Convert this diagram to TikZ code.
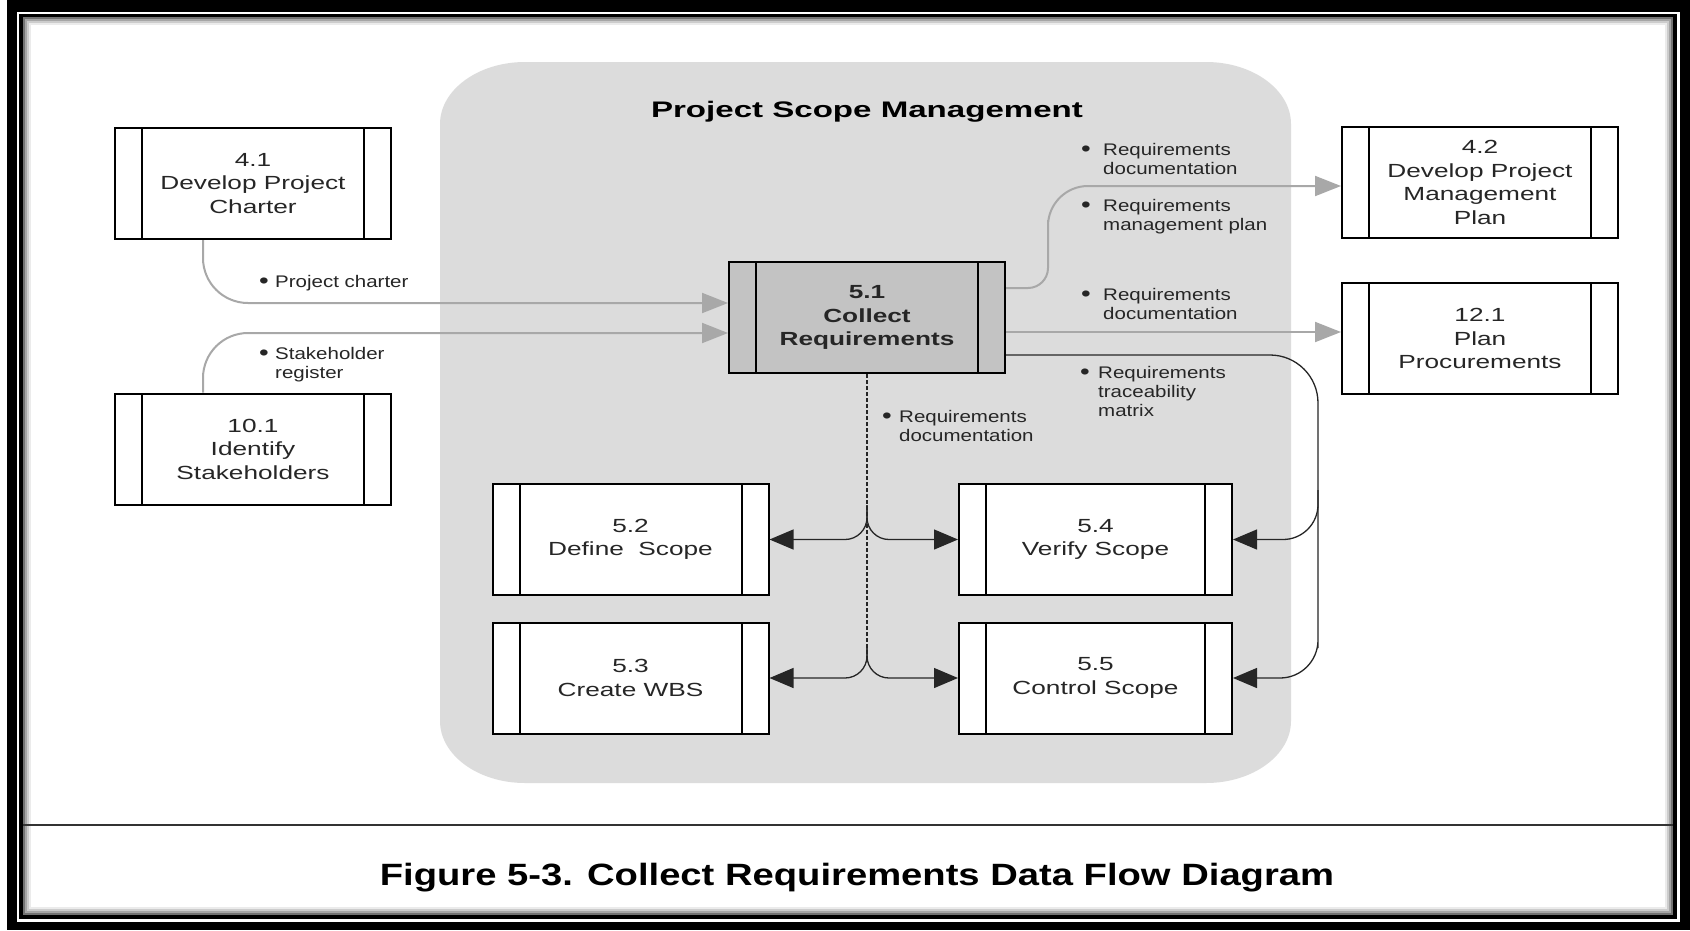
\documentclass[tikz,border=0pt]{standalone}
\usepackage{fontspec}
\setmainfont{Liberation Sans}
\newfontfamily\boxfont{Liberation Sans}[FakeStretch=1.38]
\newfontfamily\lblfont{Liberation Sans}[FakeStretch=1.22]
\newfontfamily\titlefont{Liberation Sans}[FakeStretch=1.47]
\newfontfamily\capfont{Liberation Sans}[FakeStretch=1.24]
\usetikzlibrary{arrows.meta,calc}
\definecolor{regiongray}{HTML}{DCDCDC}
\definecolor{boxgray}{HTML}{C3C3C3}
\definecolor{flowgray}{HTML}{A8A8A8}
\newcommand\bul[2]{\makebox[#1][l]{\raisebox{-0.08em}{\scalebox{1.35}{\textbullet}}}\vtop{\baselineskip=19pt\lineskiplimit=-20pt #2}}
\begin{document}
\begin{tikzpicture}[x=1pt,y=-1pt,
  procbox/.style={draw=black, line width=2pt, minimum width=276pt, minimum height=111pt,
    inner sep=0pt, align=center, font=\boxfont\fontsize{19}{23.5}\selectfont, text=black!85, fill=white,
    path picture={
      \draw[black,line width=2pt] ([xshift=27pt]path picture bounding box.south west) -- ([xshift=27pt]path picture bounding box.north west);
      \draw[black,line width=2pt] ([xshift=-27pt]path picture bounding box.south east) -- ([xshift=-27pt]path picture bounding box.north east);}},
  lbl/.style={anchor=base west, inner sep=0pt, font=\lblfont\fontsize{16.8}{19}\selectfont, text=black!85},
  grayflow/.style={draw=flowgray, line width=2pt, -{Triangle[length=26pt,width=20pt]}},
  blackflow/.style={draw=black!85, line width=1.3pt, -{Triangle[length=24pt,width=20pt]}},
  blackline/.style={draw=black!85, line width=1.3pt}
]
\useasboundingbox (0,0) rectangle (1690,930);
% frame
\fill[white] (0,0) rectangle (1690,930);
\fill[black] (7,0) rectangle (1690,930);
\fill[white] (17,12) rectangle (1680,922);
\fill[black] (19,14) rectangle (1677,919);
\fill[white] (23,17) rectangle (1673,915);
\draw[black!55, line width=2pt] (24,18) rectangle (1672,914);
\draw[black!35, line width=2pt] (26,20) rectangle (1670,912);
\draw[black!20, line width=2pt] (28,22) rectangle (1668,910);
\draw[black!8, line width=2pt] (30,24) rectangle (1666,908);
\draw[black!80, line width=1.5pt] (23,825) -- (1673,825);
% region
\fill[regiongray] (440,124) .. controls (440,90) and (478,62) .. (525,62) -- (1206,62)
  .. controls (1253,62) and (1291,90) .. (1291,124) -- (1291,721)
  .. controls (1291,755) and (1253,783) .. (1206,783) -- (525,783)
  .. controls (478,783) and (440,755) .. (440,721) -- cycle;
\node[anchor=base, font=\titlefont\bfseries\fontsize{22.5}{27}\selectfont] (title) at (867,117) {Project Scope Management};
% boxes
\node[procbox] (c41) at (253,183.5) {4.1\\Develop Project\\Charter};
\node[procbox] (c101) at (253,449) {10.1\\Identify\\Stakeholders};
\node[procbox, fill=boxgray, font=\boxfont\bfseries\fontsize{19}{23.5}\selectfont] (c51) at (867,317.5) {5.1\\Collect\\Requirements};
\node[procbox] (c42) at (1480,182.5) {4.2\\Develop Project\\Management\\Plan};
\node[procbox] (c121) at (1480,338.5) {12.1\\Plan\\Procurements};
\node[procbox] (c52) at (630.5,539.5) {5.2\\Define\ \ Scope};
\node[procbox] (c53) at (630.5,678) {5.3\\Create WBS};
\node[procbox, minimum width=273pt] (c54) at (1095.5,539.5) {5.4\\Verify Scope};
\node[procbox, minimum width=273pt] (c55) at (1095.5,678) {5.5\\Control Scope};
% labels
\node[lbl] (lpc) at (259,287) {\bul{16pt}{\hbox{Project charter}}};
\node[lbl] (lsr) at (259,359) {\bul{16pt}{\hbox{Stakeholder}\hbox{register}}};
\node[lbl] (l1) at (1081,155) {\bul{22pt}{\hbox{Requirements}\hbox{documentation}}};
\node[lbl] (l2) at (1081,211) {\bul{22pt}{\hbox{Requirements}\hbox{management plan}}};
\node[lbl] (l3) at (1081,300) {\bul{22pt}{\hbox{Requirements}\hbox{documentation}}};
\node[lbl] (l4) at (1080,378) {\bul{18pt}{\hbox{Requirements}\hbox{traceability}\hbox{matrix}}};
\node[lbl] (l5) at (882,422) {\bul{17pt}{\hbox{Requirements}\hbox{documentation}}};
% caption
\node[anchor=base, font=\capfont\bfseries\fontsize{30.8}{36}\selectfont] (cap) at (857,885) {Figure 5-3. Collect Requirements Data Flow Diagram};
% connectors
\draw[grayflow, rounded corners=45pt] ($(c41.south west)+(89,0)$) |- (c51.west |- 0,303);
\draw[grayflow, rounded corners=45pt] ($(c101.north west)+(89,0)$) |- (c51.west |- 0,333);
\draw[grayflow] (c51.east |- 0,288) [rounded corners=20pt] -| (1048,240) [rounded corners=40pt] |- (c42.west |- 0,186);
\draw[grayflow] (c51.east |- 0,332) -- (c121.west |- 0,332);
\coordinate (tv) at (1318,490);
\draw[blackflow] (c51.east |- 0,355) [rounded corners=48pt] -| (1318,600) [rounded corners=38pt] |- (c55.east);
\draw[blackflow, rounded corners=35pt] (tv) |- (c54.east);
\draw[blackline, dash pattern=on 4pt off 2pt] (c51.south) -- (c51.south |- 0,662);
\coordinate (ja) at (c51.south |- 0,505);
\coordinate (jb) at (c51.south |- 0,645);
\draw[blackflow, rounded corners=22pt] (ja) |- (c52.east);
\draw[blackflow, rounded corners=22pt] (ja) |- (c54.west);
\draw[blackflow, rounded corners=22pt] (jb) |- (c53.east);
\draw[blackflow, rounded corners=22pt] (jb) |- (c55.west);
\end{tikzpicture}
\end{document}
